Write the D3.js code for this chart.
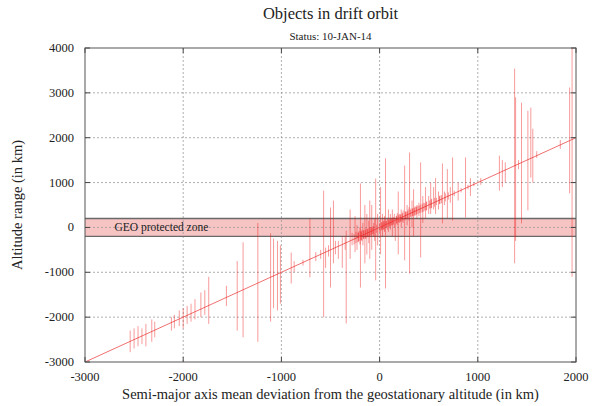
<!DOCTYPE html>
<html><head><meta charset="utf-8">
<script src="https://cdn.jsdelivr.net/npm/d3@7"></script>
<style>body{margin:0;background:#fff}svg{display:block}text{font-family:"Liberation Serif","DejaVu Serif",serif;fill:#222}</style>
</head><body>
<script>
const xTicks = [-3000,-2000,-1000,0,1000,2000];
const yTicks = [-3000,-2000,-1000,0,1000,2000,3000,4000];
const geoZone = [-200, 200];
// semi-major axis deviation (km) and altitude range min/max (km) per object
const driftX = [-2540,-2500,-2460,-2420,-2380,-2320,-2290,-2120,-2090,-2040,-2000,-1960,-1920,-1880,-1820,-1780,-1740,-1560,-1450,-1390,-1240,-1110,-1080,-1040,-1010,-900,-870,-780,-710,-650,-600,-570,-550,-520,-500,-470,-450,-420,-380,-350,-340,-300,-280,-260,-250,-240,-230,-220,-210,-200,-195,-190,-180,-170,-160,-150,-140,-130,-120,-110,-100,-90,-80,-70,-60,-50,-40,-30,-20,0,10,20,30,40,50,60,70,80,90,100,110,120,130,140,150,160,170,180,190,200,210,220,230,240,255,260,270,280,290,300,305,320,330,340,346,360,370,380,390,400,418,420,440,450,460,468,480,500,510,520,530,550,560,570,580,600,610,630,640,660,670,690,700,720,743,760,800,830,875,900,925,960,1030,1220,1250,1280,1375,1385,1415,1445,1510,1540,1560,1600,1840,1935,1960,
  -215,-185,-165,-145,-125,-105,-85,-65,25,45,65,95,115,135,175,195,215,235,265,285,315,335,355,375,405,435,475,525,615];
const altMin = [-2780,-2700,-2650,-2600,-2650,-2550,-2450,-2300,-2250,-2200,-2250,-2150,-2100,-2050,-2000,-1950,-2150,-1750,-2300,-2450,-2550,-2100,-1800,-1850,-1700,-1250,-1000,-850,-1110,-750,-700,-2000,-900,-650,-1340,-800,-600,-700,-900,-500,-2140,-700,-400,-380,-550,-350,-500,-330,-300,-380,-1340,-280,-300,-400,-250,-800,-260,-600,-200,-350,-700,-180,-500,-150,-200,-300,-1180,-120,-400,-100,-600,-60,-200,-50,-100,-1360,0,-50,-100,20,-50,50,-200,60,0,-300,80,50,-600,100,120,0,130,100,-735,160,180,50,200,150,-1025,230,0,250,-200,250,280,200,300,250,-670,330,100,350,380,200,380,300,420,300,430,400,460,300,500,400,520,540,90,500,580,200,620,550,155,700,600,780,220,850,700,920,950,820,900,1000,-800,-300,1300,90,380,1110,1000,1550,1750,760,-1100,
  -320,-290,-260,-240,-220,-200,-180,-150,-60,-40,-10,10,40,60,100,120,140,160,190,210,240,250,270,290,320,340,380,430,520];
const altMax = [-2300,-2250,-2200,-2250,-2150,-2050,-2100,-2000,-1950,-1850,-1800,-1750,-1700,-1600,-1450,-1400,-1100,-1300,-750,-330,100,-130,-250,-300,-400,-560,-750,-720,200,-550,-500,820,-450,-400,445,600,-300,-300,-200,-200,-70,400,-120,-150,250,-100,50,-120,-80,0,980,-90,-50,100,-60,500,-20,300,-40,150,600,0,500,20,100,200,1090,60,300,100,900,120,300,150,250,1540,150,200,400,180,300,200,400,230,300,200,260,320,800,300,290,400,330,380,1380,360,350,500,400,450,1670,420,600,430,850,470,460,500,480,550,1450,510,700,550,540,900,580,700,600,1000,640,900,660,1100,660,800,700,720,1425,800,760,1300,780,900,1560,820,1000,880,1560,950,1100,1000,1100,1600,1500,1450,3540,2900,1500,2780,2600,2670,2200,1700,1950,3120,4000,
  -110,-90,-70,-60,-30,-10,10,20,110,130,140,170,190,210,250,270,290,310,340,360,390,420,440,460,490,530,570,620,710];

const W = 605, H = 406;
const m = {top:48, right:29, bottom:44, left:85};
const svg = d3.select("body").append("svg").attr("width",W).attr("height",H);
const x = d3.scaleLinear().domain([-3000,2000]).range([m.left, W-m.right]);
const y = d3.scaleLinear().domain([-3000,4000]).range([H-m.bottom, m.top]);
const pw = W-m.left-m.right, ph = H-m.top-m.bottom;

const defs = svg.append("defs");
defs.append("clipPath").attr("id","clip").append("rect").attr("x",m.left).attr("y",m.top).attr("width",pw).attr("height",ph);

// GEO zone band
svg.append("rect").attr("x",m.left).attr("width",pw)
  .attr("y",y(geoZone[1])).attr("height",y(geoZone[0])-y(geoZone[1]))
  .attr("fill","#f7c4c4");

// grid
const grid = svg.append("g").attr("stroke","#9a9a9a").attr("stroke-width",0.8).attr("stroke-dasharray","2,2");
xTicks.slice(1,-1).forEach(t=>grid.append("line").attr("x1",x(t)).attr("x2",x(t)).attr("y1",m.top).attr("y2",H-m.bottom));
yTicks.slice(1,-1).forEach(t=>grid.append("line").attr("y1",y(t)).attr("y2",y(t)).attr("x1",m.left).attr("x2",W-m.right));

// GEO zone borders
geoZone.forEach(v=>svg.append("line").attr("x1",m.left).attr("x2",W-m.right).attr("y1",y(v)).attr("y2",y(v)).attr("stroke","#6a6a6a").attr("stroke-width",1.4));
svg.append("text").attr("x",x(-2700)).attr("y",y(0)+4).attr("font-size",11.5).text("GEO protected zone");

const plot = svg.append("g").attr("clip-path","url(#clip)");
// diagonal
plot.append("line").attr("x1",x(-3000)).attr("y1",y(-3000)).attr("x2",x(2000)).attr("y2",y(2000))
  .attr("stroke","#f07070").attr("stroke-width",1);
// bars
plot.selectAll("line.bar").data(driftX).join("line").attr("class","bar")
  .attr("x1",d=>x(d)).attr("x2",d=>x(d))
  .attr("y1",(d,i)=>y(altMin[i])).attr("y2",(d,i)=>y(altMax[i]))
  .attr("stroke","#ee1111").attr("stroke-opacity",0.42).attr("stroke-width",1);

// axes with inner ticks (mirrored)
const tk = 5;
const ax = svg.append("g").attr("stroke","#444").attr("stroke-width",1);
xTicks.forEach(t=>{
  ax.append("line").attr("x1",x(t)).attr("x2",x(t)).attr("y1",H-m.bottom).attr("y2",H-m.bottom-tk);
  ax.append("line").attr("x1",x(t)).attr("x2",x(t)).attr("y1",m.top).attr("y2",m.top+tk);
});
yTicks.forEach(t=>{
  ax.append("line").attr("y1",y(t)).attr("y2",y(t)).attr("x1",m.left).attr("x2",m.left+tk);
  ax.append("line").attr("y1",y(t)).attr("y2",y(t)).attr("x1",W-m.right).attr("x2",W-m.right-tk);
});
svg.append("rect").attr("x",m.left).attr("y",m.top).attr("width",pw).attr("height",ph)
  .attr("fill","none").attr("stroke","#555").attr("stroke-width",1);

svg.append("g").selectAll("text").data(xTicks).join("text")
  .attr("x",d=>x(d)).attr("y",H-m.bottom+19).attr("text-anchor","middle").attr("font-size",12.5).text(d=>d);
svg.append("g").selectAll("text").data(yTicks).join("text")
  .attr("x",m.left-11).attr("y",d=>y(d)+4).attr("text-anchor","end").attr("font-size",12.5).text(d=>d);

svg.append("text").attr("x",m.left+pw/2).attr("y",19).attr("text-anchor","middle").attr("font-size",16.5).attr("fill","#333").text("Objects in drift orbit");
svg.append("text").attr("x",m.left+pw/2).attr("y",40).attr("text-anchor","middle").attr("font-size",11).text("Status: 10-JAN-14");
svg.append("text").attr("x",m.left+pw/2).attr("y",399).attr("text-anchor","middle").attr("font-size",14.5)
  .text("Semi-major axis mean deviation from the geostationary altitude (in km)");
svg.append("text").attr("transform",`translate(22,${m.top+ph/2}) rotate(-90)`).attr("text-anchor","middle").attr("font-size",14.5)
  .text("Altitude range (in km)");
</script>
</body></html>
